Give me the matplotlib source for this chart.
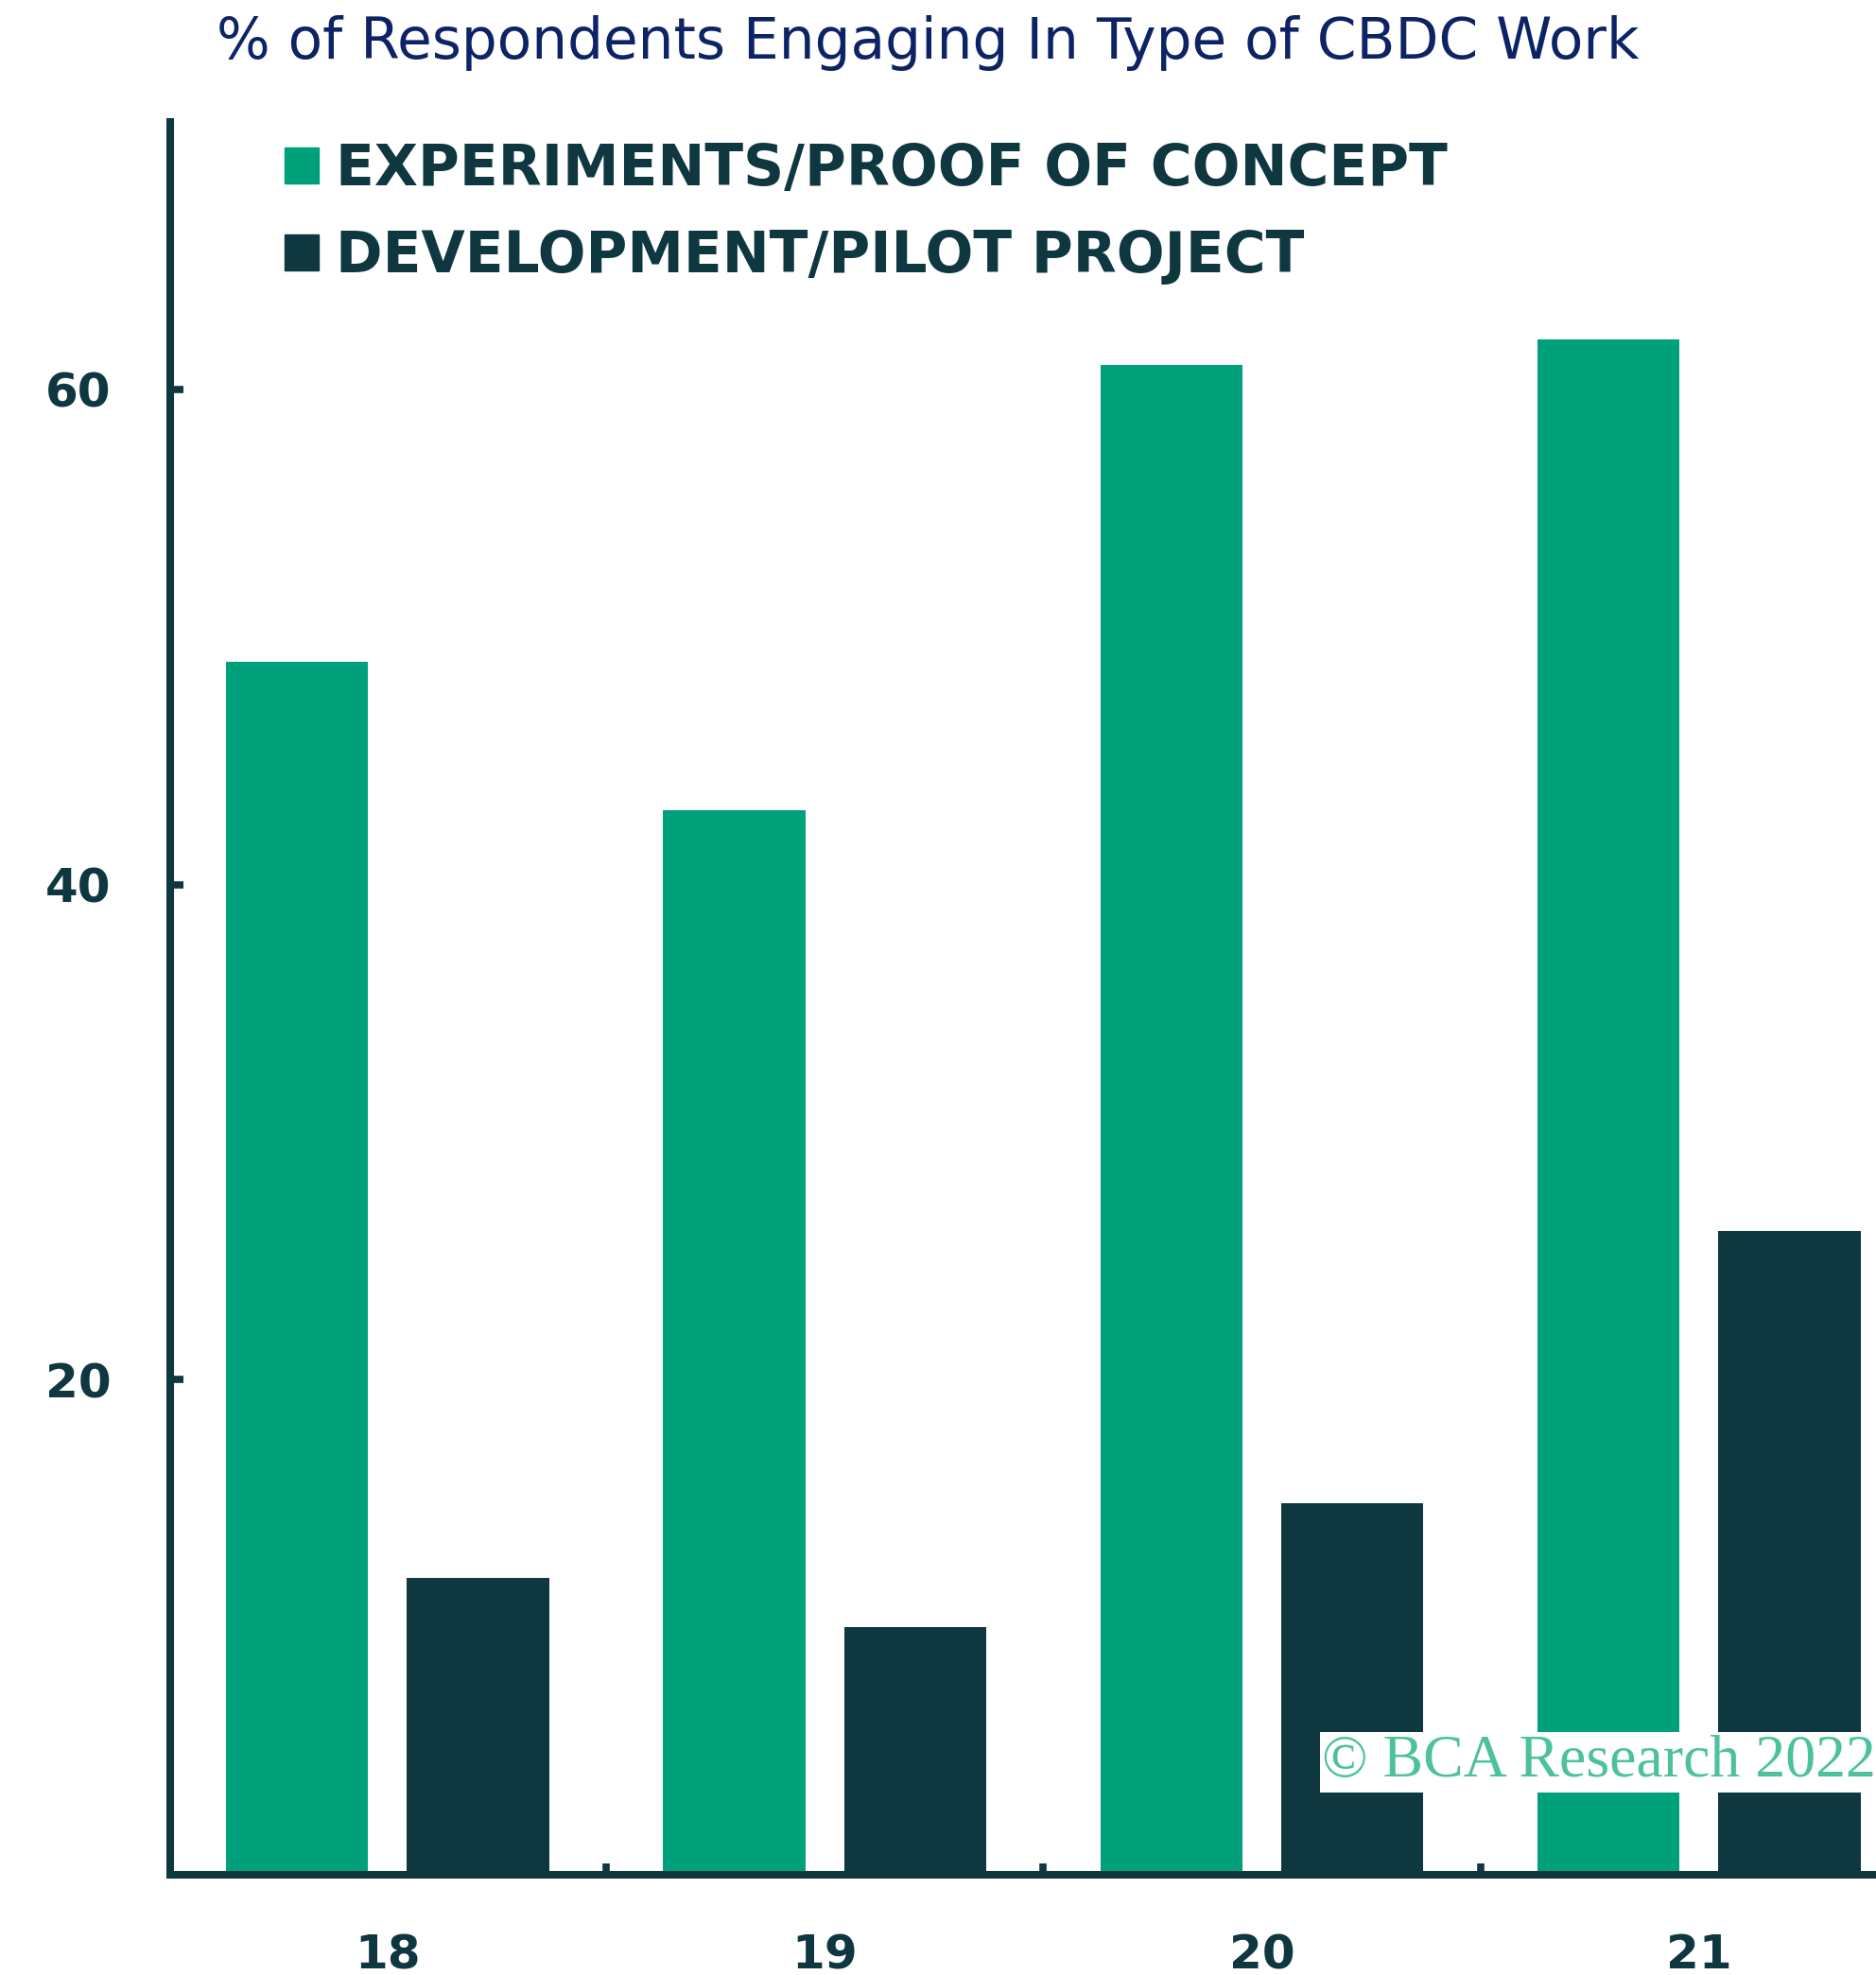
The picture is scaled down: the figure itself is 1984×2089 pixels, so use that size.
import matplotlib

matplotlib.use("Agg")
import matplotlib.pyplot as plt
import numpy as np
from matplotlib.patches import Patch

# survey years (last two digits) and share of respondents, %
years = ["18", "19", "20", "21"]
experiments = [49, 43, 61, 62]
development = [12, 10, 15, 26]
series_names = ["EXPERIMENTS/PROOF OF CONCEPT", "DEVELOPMENT/PILOT PROJECT"]
y_ticks = [20, 40, 60]

GREEN = "#00a07a"
DARK = "#0e3740"
NAVY = "#0d2366"

W, H = 1984, 2089
fig = plt.figure(figsize=(W / 100, H / 100), dpi=100)
ax = fig.add_axes([180 / W, 1 - 1983 / H, 1 - 180 / W, (1983 - 129) / H])

x = np.arange(len(years))
bw = 0.325
off = 0.207
ax.bar(x - off, experiments, width=bw, color=GREEN, zorder=2)
ax.bar(x + off, development, width=bw, color=DARK, zorder=2)

ax.set_xlim(-0.497, 3.405)
ax.set_ylim(0, 70.8)

for side in ["top", "right"]:
    ax.spines[side].set_visible(False)
for side in ["left", "bottom"]:
    ax.spines[side].set_color(DARK)
    ax.spines[side].set_linewidth(5.8)
    ax.spines[side].set_zorder(3)

ax.set_yticks(y_ticks)
ax.set_yticklabels([str(v) for v in y_ticks])
ax.tick_params(axis="y", direction="in", length=10, width=5.5, color=DARK,
               pad=45, labelsize=36, labelcolor=DARK)
ax.set_xticks(x)
ax.set_xticklabels(years)
ax.tick_params(axis="x", which="major", length=0, pad=44, labelsize=36, labelcolor=DARK)
ax.set_xticks(x[:-1] + 0.5, minor=True)
ax.tick_params(axis="x", which="minor", direction="in", length=9, width=5.5, color=DARK)
for lab in ax.get_xticklabels() + ax.get_yticklabels():
    lab.set_fontweight("bold")

handles = [Patch(color=GREEN), Patch(color=DARK)]
leg = ax.legend(handles, series_names, loc="upper left",
                bbox_to_anchor=(301 / W, 1 - 150 / H), bbox_transform=fig.transFigure,
                frameon=False, borderpad=0, borderaxespad=0,
                handlelength=0.6, handleheight=0.6, handletextpad=0.3,
                labelspacing=0.55, prop={"size": 43, "weight": "bold"})
for t in leg.get_texts():
    t.set_color(DARK)

fig.text(981 / W, 1 - 62 / H, "% of Respondents Engaging In Type of CBDC Work",
         ha="center", va="baseline", fontsize=43, color=NAVY)

# copyright stamp in a white box, lower right
ax.text(1.0, 1 - (1893 - 129) / (1983 - 129), "© BCA Research 2022",
        transform=ax.transAxes, ha="right", va="bottom", fontsize=46,
        family="Liberation Serif", color="#4cc19c", zorder=5,
        bbox=dict(facecolor="white", edgecolor="none", pad=2))

fig.savefig("out.png", dpi=100, facecolor="white")
